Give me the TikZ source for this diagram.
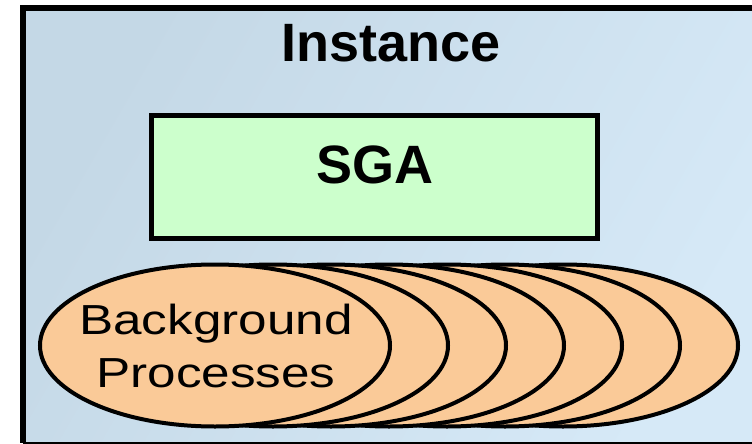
\documentclass[tikz,border=0pt]{standalone}
\usepackage{fontspec}
\setmainfont{Liberation Sans}
\usetikzlibrary{shapes.geometric}
\definecolor{panelA}{RGB}{196,216,230}
\definecolor{panelB}{RGB}{214,233,247}
\definecolor{sgafill}{RGB}{204,255,204}
\definecolor{procfill}{RGB}{250,202,152}
\tikzset{
  panel/.style={draw=black,line width=6pt},
  membox/.style={draw=black,line width=5pt,fill=sgafill,inner sep=0pt,
                 minimum width=446pt,minimum height=123pt},
  proc/.style={ellipse,draw=black,line width=4pt,fill=procfill,inner sep=0pt,
               minimum width=350pt,minimum height=162pt},
  bigbold/.style={font=\fontsize{54}{60}\selectfont\bfseries,inner sep=0pt}
}
\begin{document}
\begin{tikzpicture}[x=1pt,y=-1pt]
  \useasboundingbox (0,0) rectangle (752,444);
  \clip (0,0) rectangle (752,444);
  % instance panel
  \shade[left color=panelA,right color=panelB,shading angle=60]
    (23,8) rectangle (770,443);
  \draw[panel] (23,8) -- (23,443);
  \draw[panel] (20,8) -- (770,8);
  \draw[line width=2pt] (23,443) -- (770,443);
  \node[bigbold,anchor=base] (inst) at (391,62) {Instance};
  % SGA
  \node[membox] (sga) at (374,176.5) {};
  \node[bigbold,anchor=base] (sgalabel) at (375,183) {SGA};
  % stack of background processes, back to front
  \foreach \i in {6,5,4,3,2,1,0}{
    \node[proc] (p\i) at ({215+58*\i},345.5) {};
  }
  \node[anchor=north,align=center,inner sep=0pt,
        font=\fontsize{42}{53}\selectfont] (bglabel) at (216,304)
    {\scalebox{1.22}[1]{Background}\\\scalebox{1.22}[1]{Processes}};
\end{tikzpicture}
\end{document}
